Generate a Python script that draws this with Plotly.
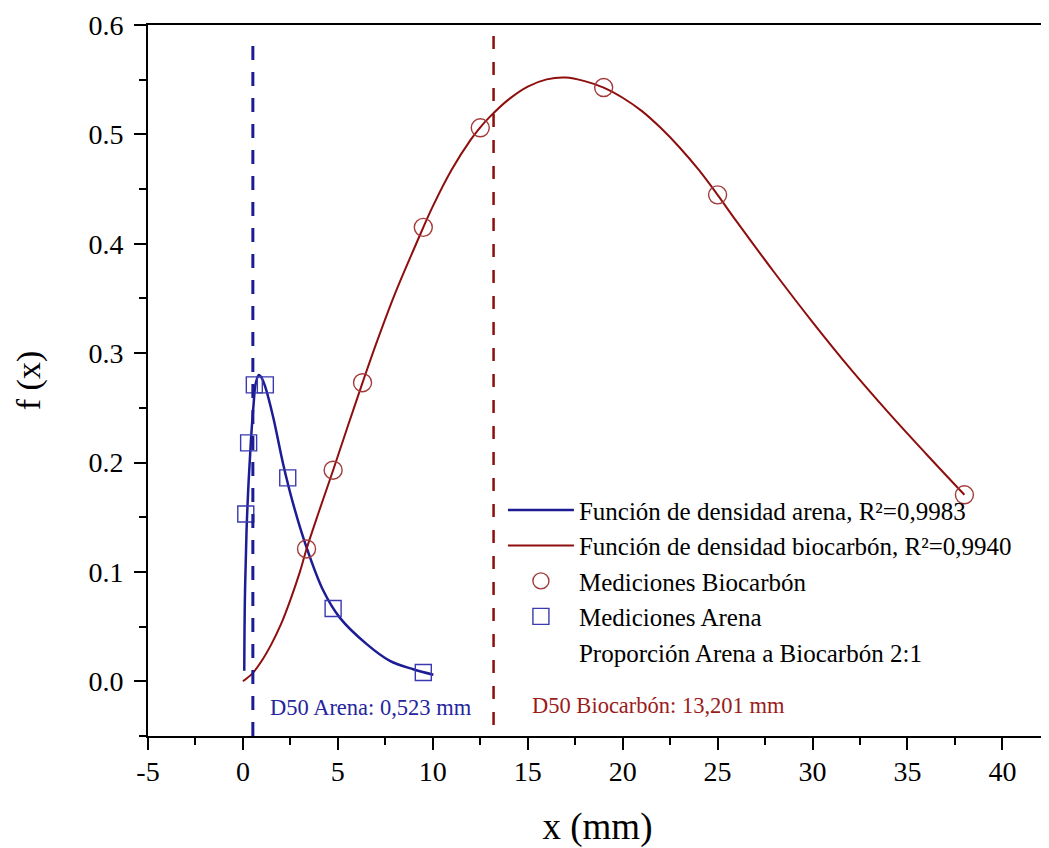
import plotly.graph_objects as go

# ---- data ----
arena_x = [0.15, 0.3, 0.6, 1.18, 2.36, 4.75, 9.5]
arena_y = [0.153, 0.218, 0.271, 0.271, 0.186, 0.0665, 0.008]

bio_x = [3.35, 4.75, 6.3, 9.5, 12.5, 19.0, 25.0, 38.0]
bio_y = [0.121, 0.193, 0.273, 0.415, 0.506, 0.5428, 0.4447, 0.1705]

arena_fit_x = [0.07, 0.105, 0.19, 0.30, 0.42, 0.56, 0.67, 0.84, 1.0, 1.16, 1.6, 2.12,
               2.65, 3.3, 4.23, 5.11, 6.52, 7.74, 8.97, 10.03]
arena_fit_y = [0.0096, 0.0766, 0.1376, 0.183, 0.22, 0.253, 0.272, 0.280, 0.277, 0.270,
               0.241, 0.1985, 0.162, 0.125, 0.083, 0.058, 0.034, 0.0187, 0.011, 0.006]

bio_fit_x = [0.0, 0.5, 1.0, 1.5, 2.0, 2.5, 3.0, 3.35, 4.0, 4.75, 5.5, 6.3, 7.0, 8.0, 9.0,
             9.5, 10.0, 11.0, 12.0, 12.5, 13.0, 14.0, 15.0, 16.0, 17.0, 18.0, 19.0, 20.0,
             21.0, 22.0, 23.0, 24.0, 25.0, 26.0, 28.0, 30.0, 32.0, 34.0, 36.0, 38.0]
bio_fit_y = [0.0, 0.0072, 0.019, 0.034, 0.052, 0.0745, 0.1, 0.121, 0.155, 0.193,
             0.232, 0.273, 0.3078, 0.354, 0.395, 0.415, 0.4342, 0.4679, 0.4952, 0.5065,
             0.516, 0.532, 0.5437, 0.5503, 0.552, 0.5487, 0.5428, 0.5335, 0.5215, 0.506,
             0.488, 0.4677, 0.4447, 0.4204, 0.3735, 0.3284, 0.2856, 0.2456, 0.2076, 0.1705]

d50_arena = 0.523
d50_bio = 13.201

x_tickvals = [-5, 0, 5, 10, 15, 20, 25, 30, 35, 40]
x_ticktext = ["-5", "0", "5", "10", "15", "20", "25", "30", "35", "40"]

BLUE_LINE = "#1c1c94"
BLUE_MARK = "#3a3ab0"
RED_LINE = "#8e0e0e"
RED_MARK = "#a33a3a"
FONT = "Liberation Serif"

fig = go.Figure()
fig.add_trace(go.Scatter(x=arena_fit_x, y=arena_fit_y, mode="lines",
                         line=dict(color=BLUE_LINE, width=2.5, shape="spline"),
                         name="Función de densidad arena, R²=0,9983"))
fig.add_trace(go.Scatter(x=bio_fit_x, y=bio_fit_y, mode="lines",
                         line=dict(color=RED_LINE, width=2, shape="spline"),
                         name="Función de densidad biocarbón, R²=0,9940"))
fig.add_trace(go.Scatter(x=bio_x, y=bio_y, mode="markers",
                         marker=dict(symbol="circle-open", size=18, color=RED_MARK,
                                     line=dict(width=1.4, color=RED_MARK)),
                         name="Mediciones Biocarbón"))
fig.add_trace(go.Scatter(x=arena_x, y=arena_y, mode="markers",
                         marker=dict(symbol="square-open", size=16, color=BLUE_MARK,
                                     line=dict(width=1.4, color=BLUE_MARK)),
                         name="Mediciones Arena"))
fig.add_trace(go.Scatter(x=[None], y=[None], mode="lines",
                         line=dict(width=0, color="rgba(0,0,0,0)"),
                         name="Proporción Arena a Biocarbón 2:1"))

# D50 lines
fig.add_shape(type="line", x0=d50_arena, x1=d50_arena, y0=-0.05, y1=0.588,
              line=dict(color=BLUE_LINE, width=3, dash="14px,12px"))
fig.add_shape(type="line", x0=d50_bio, x1=d50_bio, y0=-0.04, y1=0.6,
              line=dict(color=RED_LINE, width=2.5, dash="13px,13px"))

fig.add_annotation(x=1.32, y=-0.0242, text="D50 Arena: 0,523 mm", showarrow=False,
                   xanchor="left", yanchor="middle",
                   font=dict(family=FONT, size=22.5, color="#2525a0"))
fig.add_annotation(x=15.12, y=-0.0224, text="D50 Biocarbón: 13,201 mm", showarrow=False,
                   xanchor="left", yanchor="middle",
                   font=dict(family=FONT, size=22.5, color="#9a1c1c"))

axis_common = dict(showline=True, linecolor="black", linewidth=2, mirror=True,
                   ticks="outside", ticklen=12, tickwidth=2, tickcolor="black",
                   showgrid=False, zeroline=False,
                   tickfont=dict(family=FONT, size=28, color="black"))

fig.update_xaxes(range=[-5, 42.35], tickmode="array", tickvals=x_tickvals,
                 ticktext=x_ticktext, ticklabelstandoff=-3,
                 minor=dict(ticks="outside", ticklen=7, tickwidth=2, dtick=2.5,
                            tick0=0, tickcolor="black"),
                 title=dict(text="x (mm)", font=dict(family=FONT, size=37, color="black"),
                            standoff=28),
                 **axis_common)
fig.update_yaxes(range=[-0.05, 0.6], tick0=0, dtick=0.1, tickformat=".1f",
                 ticklabelstandoff=5,
                 minor=dict(ticks="outside", ticklen=7, tickwidth=2, dtick=0.05,
                            tick0=0, tickcolor="black"),
                 title=dict(text="f (x)", font=dict(family=FONT, size=34, color="black"),
                            standoff=38),
                 **axis_common)

fig.update_layout(width=1041, height=840,
                  margin=dict(l=140, r=2, t=17, b=112, autoexpand=False),
                  paper_bgcolor="white", plot_bgcolor="white",
                  legend=dict(x=0.3948, y=0.350, xanchor="left", yanchor="top",
                              bgcolor="rgba(0,0,0,0)", itemwidth=66,
                              font=dict(family=FONT, size=25, color="black"),
                              tracegroupgap=0),
                  showlegend=True)

fig.write_html("out.html")
